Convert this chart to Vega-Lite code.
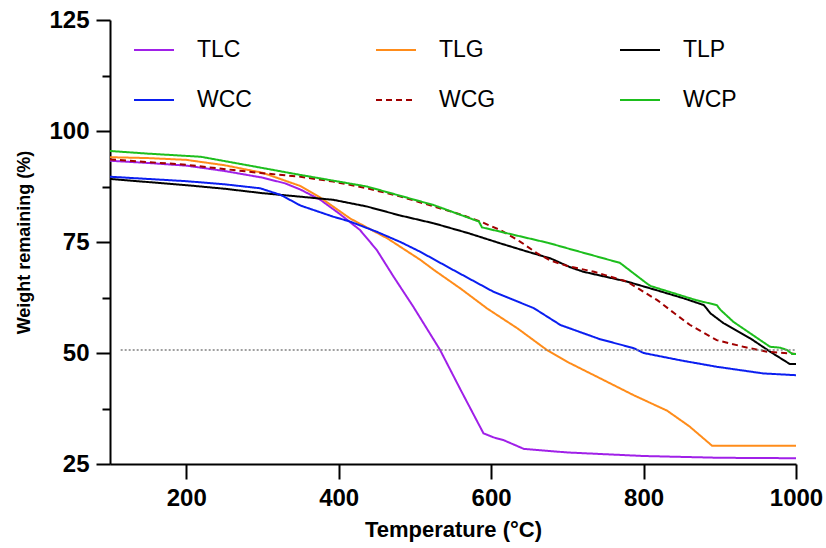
{
  "$schema": "https://vega.github.io/schema/vega-lite/v6.json",
  "width": 686,
  "height": 444,
  "autosize": {"type": "none"},
  "padding": {"left": 110, "top": 20, "right": 30, "bottom": 84},
  "background": "white",
  "config": {
    "view": {"stroke": null},
    "font": "Liberation Sans",
    "axis": {
      "grid": false,
      "domainColor": "black",
      "domainWidth": 2,
      "tickColor": "black",
      "tickWidth": 2,
      "labelColor": "black",
      "labelFont": "Liberation Sans",
      "labelFontSize": 24,
      "labelFontWeight": "bold",
      "labelOverlap": false,
      "labelFlush": false,
      "titleColor": "black",
      "titleFont": "Liberation Sans",
      "titleFontWeight": "bold"
    }
  },
  "datasets": {
    "curves": [
      {"series": "TLC", "T": 100, "W": 93.3}, {"series": "TLC", "T": 150, "W": 92.8}, {"series": "TLC", "T": 200, "W": 92.2}, {"series": "TLC", "T": 250, "W": 91.0}, {"series": "TLC", "T": 300, "W": 89.5}, {"series": "TLC", "T": 330, "W": 88.2}, {"series": "TLC", "T": 350, "W": 86.8}, {"series": "TLC", "T": 376, "W": 84.5}, {"series": "TLC", "T": 400, "W": 81.5}, {"series": "TLC", "T": 428, "W": 77.7}, {"series": "TLC", "T": 450, "W": 73.2}, {"series": "TLC", "T": 472, "W": 67.2}, {"series": "TLC", "T": 498, "W": 60.4}, {"series": "TLC", "T": 533, "W": 50.7}, {"series": "TLC", "T": 560, "W": 41.7}, {"series": "TLC", "T": 590, "W": 31.9}, {"series": "TLC", "T": 603, "W": 31.0}, {"series": "TLC", "T": 616, "W": 30.4}, {"series": "TLC", "T": 643, "W": 28.4}, {"series": "TLC", "T": 700, "W": 27.6}, {"series": "TLC", "T": 800, "W": 26.8}, {"series": "TLC", "T": 900, "W": 26.4}, {"series": "TLC", "T": 1000, "W": 26.3},
      {"series": "TLG", "T": 100, "W": 94.1}, {"series": "TLG", "T": 150, "W": 93.9}, {"series": "TLG", "T": 200, "W": 93.5}, {"series": "TLG", "T": 250, "W": 92.3}, {"series": "TLG", "T": 300, "W": 90.6}, {"series": "TLG", "T": 350, "W": 87.6}, {"series": "TLG", "T": 376, "W": 85.0}, {"series": "TLG", "T": 415, "W": 80.3}, {"series": "TLG", "T": 464, "W": 75.8}, {"series": "TLG", "T": 507, "W": 71.0}, {"series": "TLG", "T": 525, "W": 68.7}, {"series": "TLG", "T": 560, "W": 64.5}, {"series": "TLG", "T": 595, "W": 60.0}, {"series": "TLG", "T": 635, "W": 55.5}, {"series": "TLG", "T": 673, "W": 50.7}, {"series": "TLG", "T": 700, "W": 48.0}, {"series": "TLG", "T": 743, "W": 44.3}, {"series": "TLG", "T": 787, "W": 40.5}, {"series": "TLG", "T": 831, "W": 37.0}, {"series": "TLG", "T": 860, "W": 33.5}, {"series": "TLG", "T": 890, "W": 29.1}, {"series": "TLG", "T": 1000, "W": 29.1},
      {"series": "TLP", "T": 100, "W": 89.2}, {"series": "TLP", "T": 150, "W": 88.5}, {"series": "TLP", "T": 200, "W": 87.8}, {"series": "TLP", "T": 250, "W": 87.0}, {"series": "TLP", "T": 300, "W": 86.0}, {"series": "TLP", "T": 350, "W": 85.2}, {"series": "TLP", "T": 393, "W": 84.5}, {"series": "TLP", "T": 437, "W": 83.0}, {"series": "TLP", "T": 480, "W": 81.0}, {"series": "TLP", "T": 525, "W": 79.2}, {"series": "TLP", "T": 570, "W": 77.0}, {"series": "TLP", "T": 612, "W": 74.7}, {"series": "TLP", "T": 656, "W": 72.4}, {"series": "TLP", "T": 678, "W": 71.3}, {"series": "TLP", "T": 704, "W": 69.3}, {"series": "TLP", "T": 721, "W": 68.3}, {"series": "TLP", "T": 778, "W": 66.1}, {"series": "TLP", "T": 820, "W": 64.0}, {"series": "TLP", "T": 853, "W": 62.3}, {"series": "TLP", "T": 879, "W": 60.8}, {"series": "TLP", "T": 888, "W": 58.9}, {"series": "TLP", "T": 905, "W": 56.7}, {"series": "TLP", "T": 940, "W": 53.3}, {"series": "TLP", "T": 966, "W": 50.3}, {"series": "TLP", "T": 992, "W": 47.5}, {"series": "TLP", "T": 1000, "W": 47.5},
      {"series": "WCC", "T": 100, "W": 89.7}, {"series": "WCC", "T": 150, "W": 89.2}, {"series": "WCC", "T": 200, "W": 88.7}, {"series": "WCC", "T": 250, "W": 88.0}, {"series": "WCC", "T": 297, "W": 87.1}, {"series": "WCC", "T": 324, "W": 85.6}, {"series": "WCC", "T": 350, "W": 83.2}, {"series": "WCC", "T": 393, "W": 80.7}, {"series": "WCC", "T": 415, "W": 79.6}, {"series": "WCC", "T": 450, "W": 77.3}, {"series": "WCC", "T": 481, "W": 75.0}, {"series": "WCC", "T": 507, "W": 72.8}, {"series": "WCC", "T": 546, "W": 69.1}, {"series": "WCC", "T": 603, "W": 63.8}, {"series": "WCC", "T": 656, "W": 60.1}, {"series": "WCC", "T": 691, "W": 56.3}, {"series": "WCC", "T": 743, "W": 53.1}, {"series": "WCC", "T": 787, "W": 51.1}, {"series": "WCC", "T": 800, "W": 50.0}, {"series": "WCC", "T": 850, "W": 48.3}, {"series": "WCC", "T": 896, "W": 46.9}, {"series": "WCC", "T": 957, "W": 45.4}, {"series": "WCC", "T": 1000, "W": 45.0},
      {"series": "WCG", "T": 100, "W": 93.6}, {"series": "WCG", "T": 150, "W": 93.0}, {"series": "WCG", "T": 200, "W": 92.4}, {"series": "WCG", "T": 262, "W": 91.2}, {"series": "WCG", "T": 300, "W": 90.5}, {"series": "WCG", "T": 350, "W": 89.7}, {"series": "WCG", "T": 393, "W": 88.6}, {"series": "WCG", "T": 437, "W": 87.1}, {"series": "WCG", "T": 480, "W": 85.3}, {"series": "WCG", "T": 525, "W": 83.0}, {"series": "WCG", "T": 560, "W": 81.2}, {"series": "WCG", "T": 586, "W": 79.6}, {"series": "WCG", "T": 612, "W": 77.7}, {"series": "WCG", "T": 638, "W": 75.1}, {"series": "WCG", "T": 660, "W": 72.5}, {"series": "WCG", "T": 678, "W": 70.8}, {"series": "WCG", "T": 700, "W": 69.6}, {"series": "WCG", "T": 735, "W": 68.3}, {"series": "WCG", "T": 778, "W": 66.1}, {"series": "WCG", "T": 818, "W": 61.9}, {"series": "WCG", "T": 840, "W": 59.0}, {"series": "WCG", "T": 861, "W": 56.3}, {"series": "WCG", "T": 896, "W": 52.9}, {"series": "WCG", "T": 931, "W": 51.4}, {"series": "WCG", "T": 962, "W": 50.3}, {"series": "WCG", "T": 1000, "W": 49.8},
      {"series": "WCP", "T": 100, "W": 95.5}, {"series": "WCP", "T": 150, "W": 94.9}, {"series": "WCP", "T": 219, "W": 94.2}, {"series": "WCP", "T": 280, "W": 92.3}, {"series": "WCP", "T": 350, "W": 90.1}, {"series": "WCP", "T": 437, "W": 87.5}, {"series": "WCP", "T": 525, "W": 83.3}, {"series": "WCP", "T": 584, "W": 79.6}, {"series": "WCP", "T": 588, "W": 78.3}, {"series": "WCP", "T": 630, "W": 76.6}, {"series": "WCP", "T": 675, "W": 74.8}, {"series": "WCP", "T": 708, "W": 73.2}, {"series": "WCP", "T": 769, "W": 70.3}, {"series": "WCP", "T": 785, "W": 68.2}, {"series": "WCP", "T": 804, "W": 65.7}, {"series": "WCP", "T": 809, "W": 65.1}, {"series": "WCP", "T": 869, "W": 61.9}, {"series": "WCP", "T": 896, "W": 60.8}, {"series": "WCP", "T": 901, "W": 59.7}, {"series": "WCP", "T": 918, "W": 57.0}, {"series": "WCP", "T": 966, "W": 51.4}, {"series": "WCP", "T": 979, "W": 51.2}, {"series": "WCP", "T": 988, "W": 50.7}, {"series": "WCP", "T": 995, "W": 49.8}, {"series": "WCP", "T": 1000, "W": 49.8}
    ],
    "ref": [{"level": 50.7, "start": 114, "end": 1000}]
  },
  "resolve": {"axis": {"y": "independent"}},
  "layer": [
    {
      "data": {"name": "curves"},
      "mark": {"type": "line", "strokeWidth": 2},
      "encoding": {
        "x": {
          "field": "T", "type": "quantitative",
          "scale": {"domain": [100, 1000], "nice": false, "zero": false},
          "axis": {"values": [200, 400, 600, 800, 1000], "format": "d", "tickSize": 15, "labelPadding": 7, "title": "Temperature (°C)", "titleFontSize": 22, "titlePadding": 9}
        },
        "y": {
          "field": "W", "type": "quantitative",
          "scale": {"domain": [25, 125], "nice": false, "zero": false},
          "axis": {
            "orient": "left",
            "values": [25, 50, 75, 100, 125],
            "format": "d",
            "tickSize": 14,
            "labelPadding": 7,
            "title": "Weight remaining (%)", "titleFontSize": 18, "titlePadding": 15
          }
        },
        "color": {
          "field": "series", "type": "nominal",
          "scale": {"domain": ["TLC", "TLG", "TLP", "WCC", "WCG", "WCP"], "range": ["#A020E8", "#FF8C1A", "#000000", "#0A1EF0", "#A00000", "#1DBE1D"]},
          "legend": {
            "title": null, "orient": "none", "legendX": 23, "legendY": 9, "columns": 3, "direction": "horizontal",
            "symbolType": "stroke", "symbolSize": 1600, "symbolStrokeWidth": 2,
            "labelFont": "Liberation Sans", "labelFontSize": 23, "labelColor": "black", "labelOffset": 22,
            "rowPadding": 17, "columnPadding": 120, "padding": 0
          }
        },
        "strokeDash": {
          "field": "series", "type": "nominal",
          "scale": {"domain": ["TLC", "TLG", "TLP", "WCC", "WCG", "WCP"], "range": [[1, 0], [1, 0], [1, 0], [1, 0], [6, 4], [1, 0]]},
          "legend": {
            "title": null, "orient": "none", "legendX": 23, "legendY": 9, "columns": 3, "direction": "horizontal",
            "symbolType": "stroke", "symbolSize": 1600, "symbolStrokeWidth": 2,
            "labelFont": "Liberation Sans", "labelFontSize": 23, "labelColor": "black", "labelOffset": 22,
            "rowPadding": 17, "columnPadding": 120, "padding": 0
          }
        }
      }
    },
    {
      "data": {"name": "ref"},
      "mark": {"type": "rule", "color": "#808080", "strokeDash": [2, 2], "strokeWidth": 1.5},
      "encoding": {
        "y": {
          "field": "level", "type": "quantitative",
          "scale": {"domain": [25, 125], "nice": false, "zero": false},
          "axis": {"orient": "left", "values": [37.5, 62.5, 87.5, 112.5], "labels": false, "domain": false, "tickSize": 8, "tickColor": "black", "tickWidth": 2, "title": null}
        },
        "x": {"field": "start", "type": "quantitative"},
        "x2": {"field": "end"}
      }
    }
  ]
}
